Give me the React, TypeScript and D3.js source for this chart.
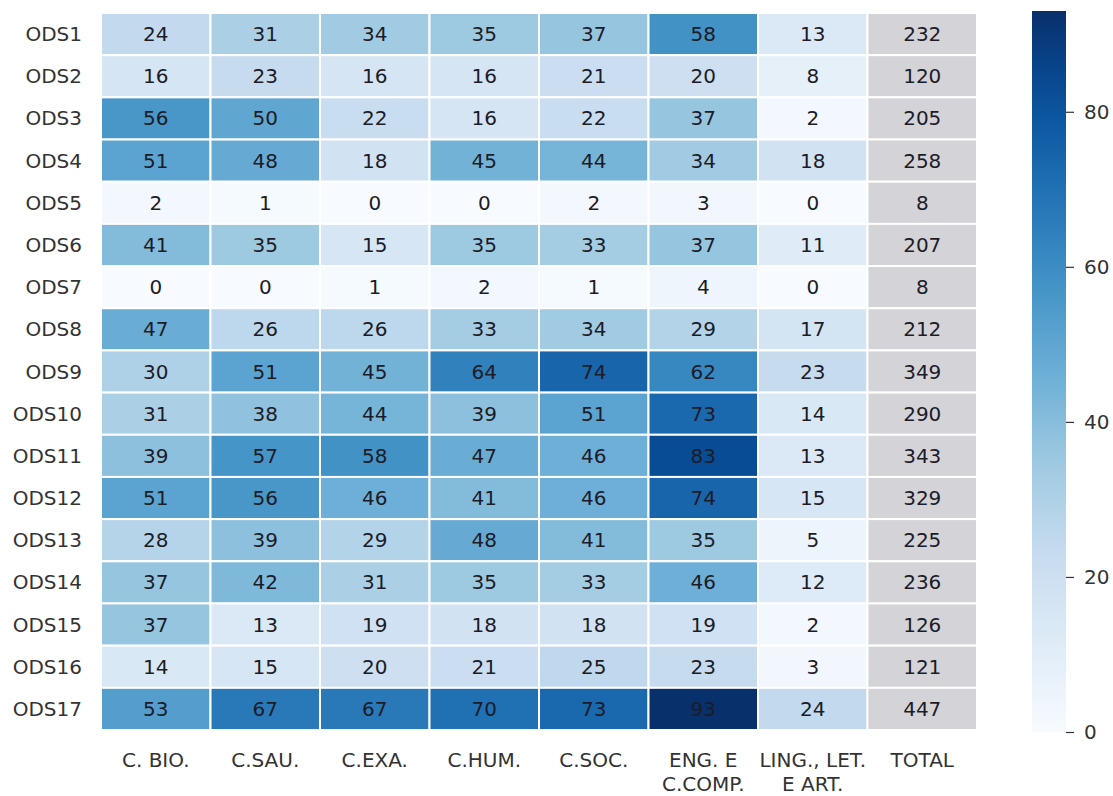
import { useRef, useEffect } from "react";
import * as d3 from "d3";

const rows = [
  "ODS1", "ODS2", "ODS3", "ODS4", "ODS5", "ODS6", "ODS7", "ODS8", "ODS9",
  "ODS10", "ODS11", "ODS12", "ODS13", "ODS14", "ODS15", "ODS16", "ODS17",
];
const columns = ["C. BIO.", "C.SAU.", "C.EXA.", "C.HUM.", "C.SOC.", "ENG. E\nC.COMP.", "LING., LET.\nE ART.", "TOTAL"];

const cBio = [24, 16, 56, 51, 2, 41, 0, 47, 30, 31, 39, 51, 28, 37, 37, 14, 53];
const cSau = [31, 23, 50, 48, 1, 35, 0, 26, 51, 38, 57, 56, 39, 42, 13, 15, 67];
const cExa = [34, 16, 22, 18, 0, 15, 1, 26, 45, 44, 58, 46, 29, 31, 19, 20, 67];
const cHum = [35, 16, 16, 45, 0, 35, 2, 33, 64, 39, 47, 41, 48, 35, 18, 21, 70];
const cSoc = [37, 21, 22, 44, 2, 33, 1, 34, 74, 51, 46, 46, 41, 33, 18, 25, 73];
const engComp = [58, 20, 37, 34, 3, 37, 4, 29, 62, 73, 83, 74, 35, 46, 19, 23, 93];
const lingArt = [13, 8, 2, 18, 0, 11, 0, 17, 23, 14, 13, 15, 5, 12, 2, 3, 24];
const total = [232, 120, 205, 258, 8, 207, 8, 212, 349, 290, 343, 329, 225, 236, 126, 121, 447];

const series = [cBio, cSau, cExa, cHum, cSoc, engComp, lingArt, total];
const colorbarTicks = [0, 20, 40, 60, 80];

// matplotlib "Blues" stops
const bluesStops = ["#f7fbff", "#deebf7", "#c6dbef", "#9ecae1", "#6baed6", "#4292c6", "#2171b5", "#08519c", "#08306b"];

export default function App() {
  const svgRef = useRef<SVGSVGElement>(null);

  useEffect(() => {
    const svg = d3.select(svgRef.current);
    svg.selectAll("*").remove();

    const width = 1113;
    const height = 796;
    const left = 101;
    const right = 977;
    const top = 13;
    const bottom = 730;
    const font = "DejaVu Sans, sans-serif";

    svg.attr("width", width).attr("height", height);

    const x = d3.scaleBand().domain(columns).range([left, right]);
    const y = d3.scaleBand().domain(rows).range([top, bottom]);

    const vmax = d3.max(series.slice(0, 7).flat()) as number;
    const color = d3
      .scaleLinear<string>()
      .domain(bluesStops.map((_, i) => (i / (bluesStops.length - 1)) * vmax))
      .range(bluesStops)
      .interpolate(d3.interpolateRgb)
      .clamp(true);

    const cells: { r: string; c: string; v: number; total: boolean }[] = [];
    columns.forEach((c, ci) => {
      rows.forEach((r, ri) => {
        cells.push({ r, c, v: series[ci][ri], total: ci === columns.length - 1 });
      });
    });

    const g = svg.append("g");
    g.selectAll("rect.cell")
      .data(cells)
      .join("rect")
      .attr("class", "cell")
      .attr("x", (d) => x(d.c)!)
      .attr("y", (d) => y(d.r)!)
      .attr("width", x.bandwidth())
      .attr("height", y.bandwidth())
      .attr("fill", (d) => (d.total ? "#d3d3d8" : color(d.v)))
      .attr("stroke", "#ffffff")
      .attr("stroke-width", 2);

    g.selectAll("text.annot")
      .data(cells)
      .join("text")
      .attr("class", "annot")
      .attr("x", (d) => x(d.c)! + x.bandwidth() / 2)
      .attr("y", (d) => y(d.r)! + y.bandwidth() / 2)
      .attr("text-anchor", "middle")
      .attr("dominant-baseline", "central")
      .style("font-family", font)
      .attr("font-size", 20)
      .attr("fill", "#1c1c28")
      .text((d) => d.v);

    // Row labels
    svg
      .append("g")
      .selectAll("text")
      .data(rows)
      .join("text")
      .attr("x", 82)
      .attr("y", (d) => y(d)! + y.bandwidth() / 2)
      .attr("text-anchor", "end")
      .attr("dominant-baseline", "central")
      .style("font-family", font)
      .attr("font-size", 20)
      .attr("fill", "#333333")
      .text((d) => d);

    // Column labels (multi-line)
    const colLabels = svg
      .append("g")
      .selectAll("text")
      .data(columns)
      .join("text")
      .attr("x", (d) => x(d)! + x.bandwidth() / 2)
      .attr("y", 767)
      .attr("text-anchor", "middle")
      .style("font-family", font)
      .attr("font-size", 20)
      .attr("fill", "#333333");
    colLabels
      .selectAll("tspan")
      .data((d) => d.split("\n").map((line, i) => ({ line, i, cx: x(d)! + x.bandwidth() / 2 })))
      .join("tspan")
      .attr("x", (d) => d.cx)
      .attr("dy", (d) => (d.i === 0 ? 0 : 24))
      .text((d) => d.line);

    // Colorbar
    const cbLeft = 1032;
    const cbWidth = 34;
    const cbTop = 11;
    const cbBottom = 732;
    const cbScale = d3.scaleLinear().domain([0, vmax]).range([cbBottom, cbTop]);

    const grad = svg
      .append("defs")
      .append("linearGradient")
      .attr("id", "cbgrad")
      .attr("x1", 0)
      .attr("y1", 1)
      .attr("x2", 0)
      .attr("y2", 0);
    grad
      .selectAll("stop")
      .data(d3.range(0, 1.0001, 0.05))
      .join("stop")
      .attr("offset", (d) => d)
      .attr("stop-color", (d) => color(d * vmax));

    svg
      .append("rect")
      .attr("x", cbLeft)
      .attr("y", cbTop)
      .attr("width", cbWidth)
      .attr("height", cbBottom - cbTop)
      .attr("fill", "url(#cbgrad)");

    const axis = svg
      .append("g")
      .attr("transform", `translate(${cbLeft + cbWidth},0)`)
      .call(d3.axisRight(cbScale).tickValues(colorbarTicks).tickSize(8).tickPadding(10));
    axis.select(".domain").remove();
    axis.selectAll("line").attr("stroke", "#333333").attr("stroke-width", 1.2);
    axis
      .selectAll("text")
      .style("font-family", font)
      .attr("font-size", 20)
      .attr("fill", "#333333");
  }, []);

  return <svg ref={svgRef} style={{ position: "absolute", left: 0, top: 0 }} />;
}
